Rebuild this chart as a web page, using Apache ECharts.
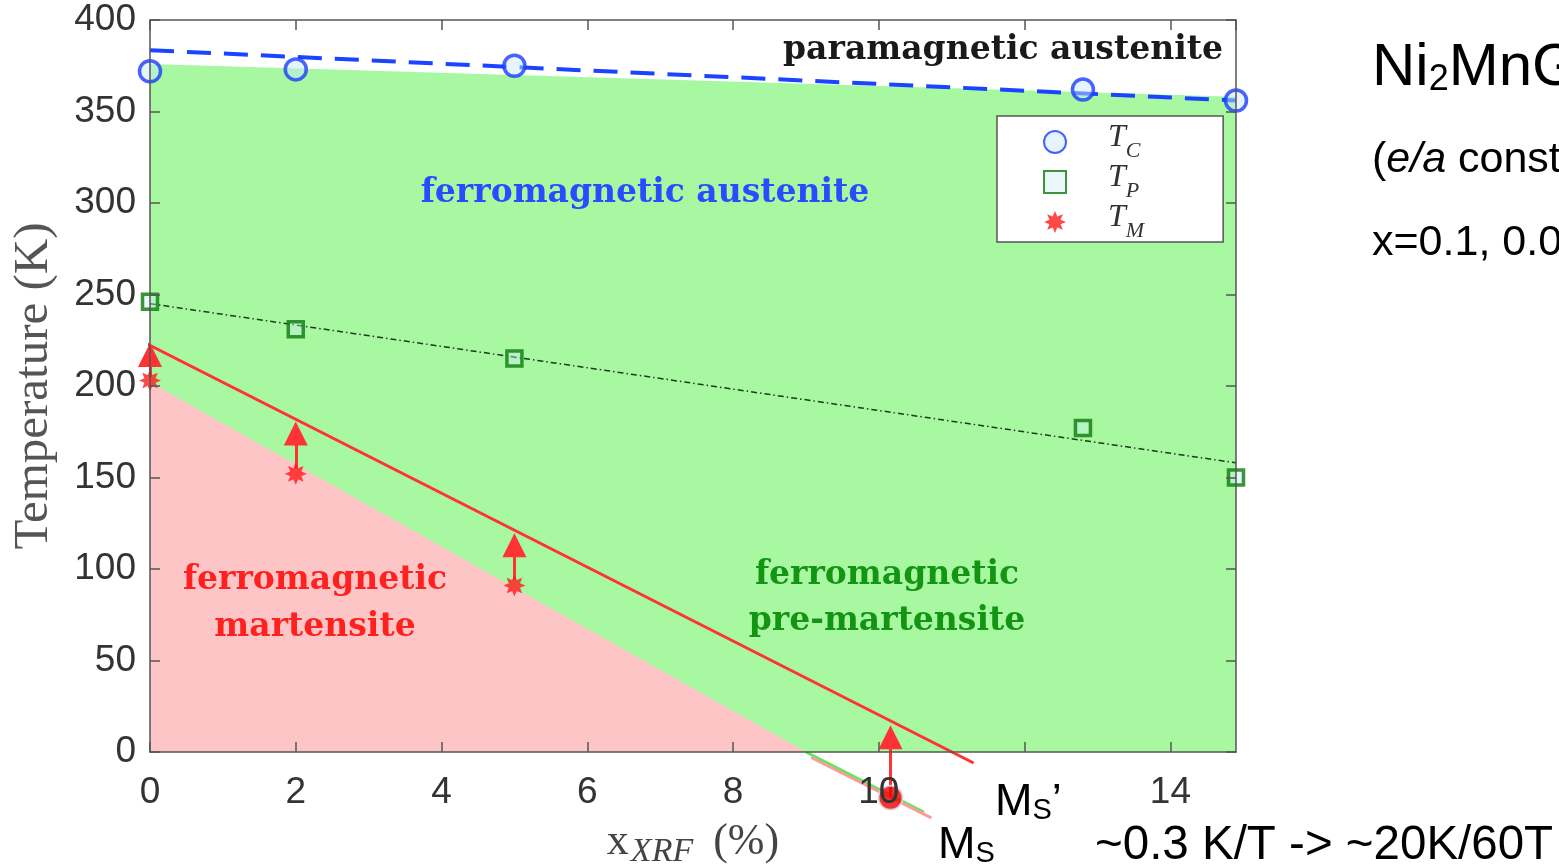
<!DOCTYPE html>
<html><head><meta charset="utf-8">
<script src="https://cdn.jsdelivr.net/npm/echarts@6/dist/echarts.min.js"></script>
<style>html,body{margin:0;padding:0;background:#fff}#c{width:1559px;height:866px}</style>
</head><body><div id="c"></div>
<script>
// ---- data ----
const tcX = [0, 2, 5, 12.8, 14.9];
const tcY = [372, 373, 375, 362, 356];
const tpX = [0, 2, 5, 12.8, 14.9];
const tpY = [246, 231, 215, 177, 150];
const tmX = [0, 2, 5];
const tmY = [203, 152, 91];
const tcFit = [[0, 383.5], [14.9, 356]];
const tpFit = [[0, 245], [14.9, 158]];
const msPrimeLine = [[-0.23, 226.8], [11.3, -6]];
const ferroTop = [[0, 376], [14.9, 358]];
const martBoundary = [[0, 202], [9.0, 0]];
const boundaryExtGreen = [[9.0, 0], [10.62, -33]];
const boundaryExtPink = [[9.07, -3], [10.72, -36]];
const arrowFrom = [[0, 205], [2, 155], [5, 94], [10.16, -25]];
const arrowTo = [[0, 217], [2, 174], [5, 113], [10.16, 8]];
const msDot = [[10.16, -25]];
const xMin = 0, xMax = 14.9, xStep = 2;
const yMin = 0, yMax = 400, yStep = 50;

function zip(xs, ys) { return xs.map((x, i) => [x, ys[i]]); }
function starPath() {
  const pts = [];
  for (let k = 0; k < 16; k++) {
    const a = (k * 22.5 - 90) * Math.PI / 180;
    const r = k % 2 ? 0.55 : 1;
    pts.push([50 + 50 * r * Math.cos(a), 50 + 50 * r * Math.sin(a)]);
  }
  return 'path://M' + pts.map(p => p[0].toFixed(2) + ',' + p[1].toFixed(2)).join('L') + 'Z';
}
const squarePath = 'path://M0,0L100,0L100,100L0,100Z';

const SERIF = '"DejaVu Serif", serif';
const LSERIF = '"Liberation Serif", serif';
const SANS = '"Liberation Sans", Arial, sans-serif';
const axisCol = '#555';

const chart = echarts.init(document.getElementById('c'));

function txt(text, x, y, font, fill, extra) {
  return {
    type: 'text', x: x, y: y, z: 50,
    style: Object.assign({ text: text, font: font, fill: fill, align: 'center', verticalAlign: 'middle',
      textAlign: 'center', textVerticalAlign: 'middle' }, extra || {})
  };
}
function boxAxis(extra) {
  return Object.assign({
    type: 'value', z: 10,
    axisLine: { show: true, onZero: false, lineStyle: { color: axisCol, width: 1.5 } },
    axisTick: { show: true, inside: true, length: 10, lineStyle: { color: axisCol, width: 1.5 } },
    splitLine: { show: false }
  }, extra);
}

const option = {
  animation: false,
  backgroundColor: '#fff',
  grid: { left: 150, right: 323, top: 20, bottom: 114, containLabel: false, outerBoundsMode: 'none' },
  xAxis: [
    boxAxis({ position: 'bottom', min: xMin, max: xMax, interval: xStep,
      axisLabel: { fontSize: 37, color: '#333', fontFamily: SANS, margin: 22, showMaxLabel: false },
      name: '{x|x}{s|XRF}{p|(%)}', nameLocation: 'middle', nameGap: 68,
      nameTextStyle: { color: '#444', rich: {
        x: { fontFamily: LSERIF, fontSize: 44, color: '#444', padding: [0, 2, 5, 0] },
        s: { fontFamily: LSERIF, fontStyle: 'italic', fontSize: 34, color: '#444', verticalAlign: 'bottom' },
        p: { fontFamily: LSERIF, fontSize: 44, color: '#444', padding: [0, 0, 5, 20] } } } }),
    boxAxis({ position: 'top', min: xMin, max: xMax, interval: xStep, axisLabel: { show: false } })
  ],
  yAxis: [
    boxAxis({ position: 'left', min: yMin, max: yMax, interval: yStep,
      axisLabel: { fontSize: 37, color: '#333', fontFamily: SANS, margin: 14 },
      name: 'Temperature (K)', nameLocation: 'middle', nameGap: 91,
      nameTextStyle: { fontFamily: LSERIF, fontSize: 49, color: '#555' } }),
    boxAxis({ position: 'right', min: yMin, max: yMax, interval: yStep, axisLabel: { show: false } })
  ],
  legend: {
    data: ['Tc', 'Tp', 'Tm'], orient: 'vertical', left: 997, top: 116,
    padding: [6, 79, 0, 46], itemWidth: 22, itemHeight: 22, itemGap: 0,
    backgroundColor: '#fff', borderColor: '#555', borderWidth: 1.5,
    formatter: n => ({ Tc: '{i|T}{s|C}', Tp: '{i|T}{s|P}', Tm: '{i|T}{s|M}' }[n]),
    textStyle: { color: '#333', rich: {
      i: { fontFamily: LSERIF, fontStyle: 'italic', fontSize: 32, color: '#333', padding: [0, 0, 8, 37] },
      s: { fontFamily: LSERIF, fontStyle: 'italic', fontSize: 22, color: '#333', verticalAlign: 'bottom' } } }
  },
  series: [
    { name: 'ferroArea', type: 'line', data: ferroTop, symbol: 'none', silent: true,
      lineStyle: { width: 0, opacity: 0 }, areaStyle: { color: '#a8f8a2', opacity: 1 }, z: 1 },
    { name: 'martArea', type: 'line', data: martBoundary, symbol: 'none', silent: true,
      lineStyle: { width: 0, opacity: 0 }, areaStyle: { color: '#fdc5c5', opacity: 1 }, z: 2 },
    { name: 'extGreen', type: 'line', data: boundaryExtGreen, symbol: 'none', clip: false,
      lineStyle: { color: '#5ee85e', width: 3 }, z: 3 },
    { name: 'extPink', type: 'line', data: boundaryExtPink, symbol: 'none', clip: false,
      lineStyle: { color: '#ff9a9a', width: 3 }, z: 3 },
    { name: 'tcFit', type: 'line', data: tcFit, symbol: 'none',
      lineStyle: { color: '#1a44ff', width: 4, type: [24, 13] }, z: 4 },
    { name: 'tpFit', type: 'line', data: tpFit, symbol: 'none',
      lineStyle: { color: '#1b3b1b', width: 1.5, type: [6, 3, 1.5, 3] }, z: 4 },
    { name: 'msPrime', type: 'line', data: msPrimeLine, symbol: 'none', clip: false,
      lineStyle: { color: '#ff3333', width: 3 }, z: 5 },
    { name: 'arrows', type: 'lines', coordinateSystem: 'cartesian2d', clip: false,
      symbol: ['none', 'triangle'], symbolSize: [17, 24],
      lineStyle: { color: '#ff3333', width: 3, opacity: 1, curveness: 0 },
      data: arrowFrom.map((p, i) => ({ coords: [p, arrowTo[i]] })), z: 6 },
    { name: 'Tc', type: 'scatter', data: zip(tcX, tcY), symbol: 'circle', symbolSize: 21,
      itemStyle: { color: 'rgba(200,232,255,0.6)', borderColor: '#1a3cff', borderWidth: 3.5 }, z: 8 },
    { name: 'Tp', type: 'scatter', data: zip(tpX, tpY), symbol: squarePath, symbolSize: 15,
      itemStyle: { color: 'rgba(200,235,240,0.5)', borderColor: '#0b7a0b', borderWidth: 3.5 }, z: 8 },
    { name: 'Tm', type: 'scatter', data: zip(tmX, tmY), symbol: starPath(), symbolSize: 22,
      itemStyle: { color: '#ff1a1a' }, z: 8 },
    { name: 'MsDot', type: 'scatter', data: msDot, symbol: 'circle', symbolSize: 24, clip: false,
      itemStyle: { color: '#ee0000', borderColor: '#d8e0ee', borderWidth: 2 }, z: 9 }
  ],
  graphic: [
    txt('paramagnetic austenite', 1003, 50, 'bold 33px ' + SERIF, '#1a1a1a'),
    txt('ferromagnetic austenite', 645, 193, 'bold 33px ' + SERIF, '#2a4bff'),
    txt('ferromagnetic\nmartensite', 315, 604, 'bold 33px ' + SERIF, '#ff2020', { lineHeight: 47 }),
    txt('ferromagnetic\npre-martensite', 887, 598, 'bold 33px ' + SERIF, '#139413', { lineHeight: 46 }),
    { type: 'text', x: 1372, y: 68, z: 50, style: {
      text: '{a|Ni}{b|2}{a|MnGa}', align: 'left', verticalAlign: 'middle', textAlign: 'left', textVerticalAlign: 'middle',
      rich: { a: { fontFamily: SANS, fontSize: 60, fill: '#000' },
              b: { fontFamily: SANS, fontSize: 36, fill: '#000', verticalAlign: 'bottom' } } } },
    { type: 'text', x: 1372, y: 160, z: 50, style: {
      text: '{a|(}{i|e/a}{a| constant)}', align: 'left', verticalAlign: 'middle', textAlign: 'left', textVerticalAlign: 'middle',
      rich: { a: { fontFamily: SANS, fontSize: 43, fill: '#000' },
              i: { fontFamily: SANS, fontSize: 43, fontStyle: 'italic', fill: '#000' } } } },
    txt('x=0.1, 0.05, 0.0', 1372, 243, '43px ' + SANS, '#000', { align: 'left', textAlign: 'left' }),
    { type: 'text', x: 993, y: 800, z: 50, style: {
      text: '{a|M}{b|S}{a|\u2019}', align: 'left', verticalAlign: 'middle', textAlign: 'left', textVerticalAlign: 'middle',
      backgroundColor: '#fff', padding: [6, 4, 0, 2],
      rich: { a: { fontFamily: SANS, fontSize: 45, fill: '#000' },
              b: { fontFamily: SANS, fontSize: 29, fill: '#000', verticalAlign: 'bottom' } } } },
    { type: 'text', x: 938, y: 846, z: 50, style: {
      text: '{a|M}{b|S}', align: 'left', verticalAlign: 'middle', textAlign: 'left', textVerticalAlign: 'middle',
      rich: { a: { fontFamily: SANS, fontSize: 45, fill: '#000' },
              b: { fontFamily: SANS, fontSize: 29, fill: '#000', verticalAlign: 'bottom' } } } },
    txt('~0.3 K/T -> ~20K/60T', 1095, 846, '47.5px ' + SANS, '#000', { align: 'left', textAlign: 'left' })
  ]
};
chart.setOption(option);
</script>
</body></html>
